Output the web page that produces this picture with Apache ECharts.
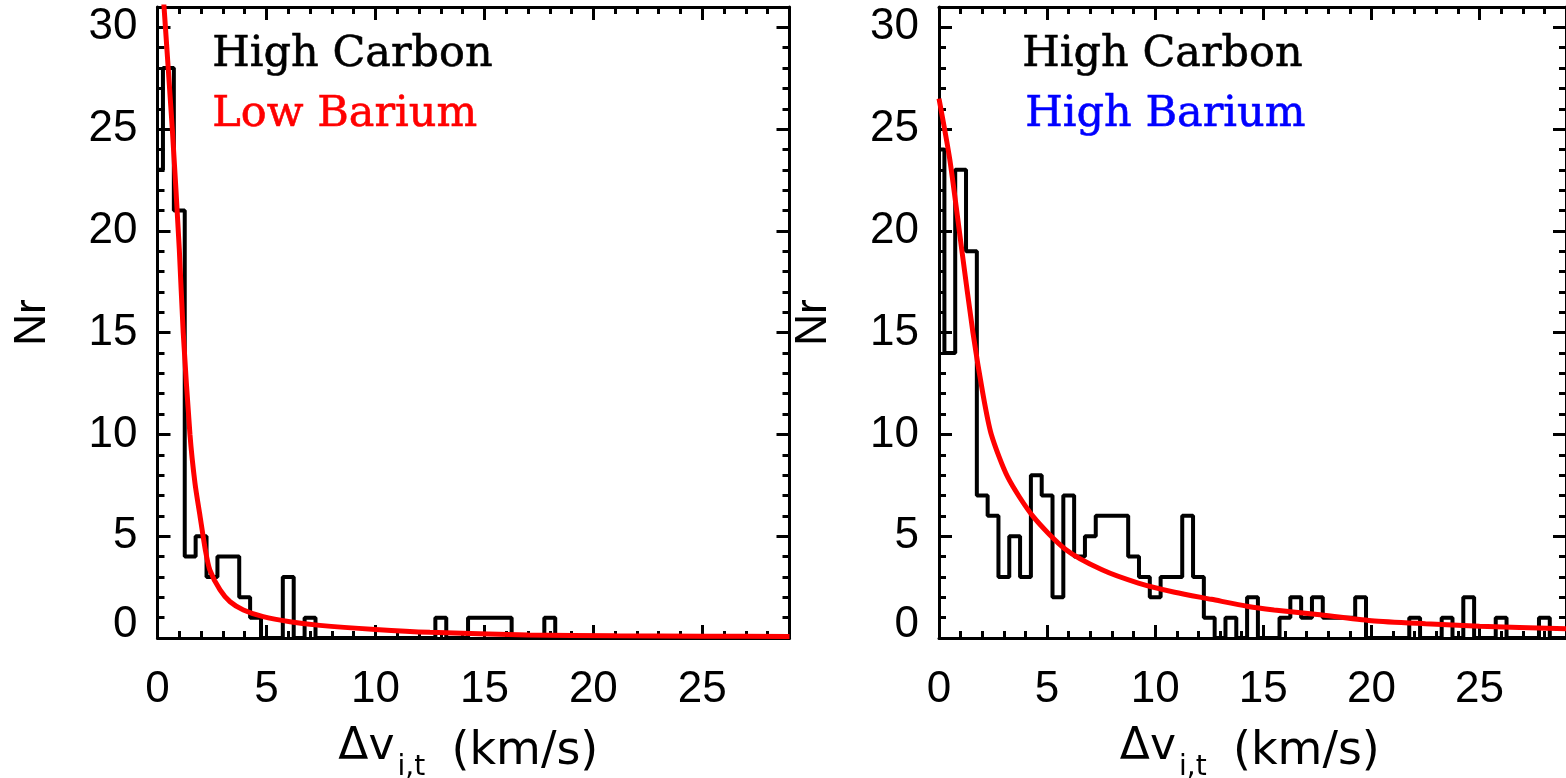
<!DOCTYPE html>
<html>
<head>
<meta charset="utf-8">
<script src="https://cdn.jsdelivr.net/npm/echarts@6/dist/echarts.min.js"></script>
<style>
  html, body { margin: 0; padding: 0; background: #fff; }
  #chart { width: 1566px; height: 778px; }
</style>
</head>
<body>
<div id="chart"></div>
<script>
// Histogram bin width (km/s); bins are centred on multiples of it, starting at 0
const binWidth = 0.5;

// Counts per bin, High Carbon / Low Barium sample
const countsLowBa = [23, 28, 21, 4, 5, 3, 4, 4, 2, 1,
                     0, 0, 3, 0, 1, 0, 0, 0, 0, 0,
                     0, 0, 0, 0, 0, 0, 1, 0, 0, 1,
                     1, 1, 1, 0, 0, 0, 1, 0, 0, 0];

// Counts per bin, High Carbon / High Barium sample
const countsHighBa = [24, 14, 23, 19, 7, 6, 3, 5, 3, 8,
                      7, 2, 7, 4, 5, 6, 6, 6, 4, 3,
                      2, 3, 3, 6, 3, 1, 0, 1, 0, 2,
                      0, 0, 1, 2, 1, 2, 1, 1, 1, 2,
                      0, 0, 0, 0, 1, 0, 0, 1, 0, 2,
                      0, 0, 1, 0, 0, 0, 1, 0, 0];

// Fitted distribution curves (velocity in km/s, number)
const fitLowBaX  = [0, 0.3, 0.68, 1.0, 1.18, 1.49, 1.72, 1.95, 2.2, 2.4, 2.87, 3.33, 3.94, 4.85, 6.08, 7.45, 10, 12.5, 17, 21, 25, 29];
const fitLowBaY  = [36, 31, 25, 19.1, 15, 10, 7.6, 6.0, 4.3, 3.35, 2.36, 1.78, 1.38, 1.05, 0.8, 0.62, 0.42, 0.28, 0.15, 0.11, 0.09, 0.07];
const fitHighBaX = [0, 0.5, 1.05, 1.57, 2.03, 2.42, 3.18, 4.33, 5.86, 7.54, 9.22, 10.9, 12.6, 14.3, 15.5, 17.5, 20, 22.5, 25, 29];
const fitHighBaY = [26.5, 23.5, 19.1, 15, 12, 10, 7.9, 6.0, 4.35, 3.35, 2.7, 2.25, 1.9, 1.55, 1.38, 1.15, 0.85, 0.7, 0.58, 0.46];

// Axis ranges and tick labels
const xMax = 29, yMax = 31;
const xMajor = 5, yMajor = 5, minorStep = 1;
const xTickLabels = [0, 5, 10, 15, 20, 25];
const yTickLabels = [0, 5, 10, 15, 20, 25, 30];

// Panel captions
const panelTitles = [
  { top: 'High Carbon', bottom: 'Low Barium',  bottomColor: '#ff0000' },
  { top: 'High Carbon', bottom: 'High Barium', bottomColor: '#0000ff' }
];
const xTitleMain = 'Δv', xTitleSub = 'i,t', xTitleUnit = '(km/s)';
const yTitle = 'Nr';

const AX_FONT = 'Liberation Sans';
const CAP_FONT = 'DejaVu Serif';
const TITLE_FONT = 'DejaVu Sans';

const grids = [
  { left: 157.5, right: 776.5, top: 7, bottom: 140 },
  { left: 939, right: -5, top: 7, bottom: 140 }
];

function pairs(xs, ys) { return xs.map((x, i) => [x, ys[i]]); }
function histPairs(counts) { return counts.map((c, i) => [i * binWidth, c]); }

const xAxes = [], yAxes = [], series = [], graphic = [];
const black = '#000';

grids.forEach((g, gi) => {
  const tickLabelX = v => xTickLabels.includes(v) ? String(v) : '';
  const tickLabelY = v => {
    if (!yTickLabels.includes(v)) return '';
    return v === 0 ? '{z|0}' : String(v);
  };
  const baseX = xAxes.length, baseY = yAxes.length;
  // bottom: major with labels, then minor; top: major, then minor
  ['bottom', 'top'].forEach(pos => {
    xAxes.push({
      type: 'value', gridIndex: gi, position: pos, min: 0, max: xMax, interval: xMajor,
      axisLine: { show: true, onZero: false, lineStyle: { color: black, width: 3 } },
      axisTick: { show: true, inside: true, length: 13, lineStyle: { color: black, width: 3 } },
      axisLabel: pos === 'bottom' ? {
        show: true, formatter: tickLabelX, color: black, fontFamily: AX_FONT, fontSize: 44, margin: 30,
        showMaxLabel: false
      } : { show: false },
      splitLine: { show: false }
    });
    xAxes.push({
      type: 'value', gridIndex: gi, position: pos, min: 0, max: xMax, interval: minorStep,
      axisLine: { show: false, onZero: false },
      axisTick: { show: true, inside: true, length: 7, lineStyle: { color: black, width: 3 } },
      axisLabel: { show: false }, splitLine: { show: false }
    });
  });
  ['left', 'right'].forEach(pos => {
    yAxes.push({
      type: 'value', gridIndex: gi, position: pos, min: 0, max: yMax, interval: yMajor,
      axisLine: { show: true, onZero: false, lineStyle: { color: black, width: 3 } },
      axisTick: { show: true, inside: true, length: 13, lineStyle: { color: black, width: 3 } },
      axisLabel: pos === 'left' ? {
        show: true, formatter: tickLabelY, color: black, fontFamily: AX_FONT, fontSize: 44, margin: 20,
        showMaxLabel: false,
        rich: { z: { fontFamily: AX_FONT, fontSize: 44, color: black, padding: [0, 0, 26, 0] } }
      } : { show: false },
      splitLine: { show: false },
      name: pos === 'left' ? yTitle : '',
      nameLocation: 'middle', nameRotate: 90, nameGap: 103,
      nameTextStyle: { fontFamily: AX_FONT, fontSize: 44, color: black }
    });
    yAxes.push({
      type: 'value', gridIndex: gi, position: pos, min: 0, max: yMax, interval: minorStep,
      axisLine: { show: false, onZero: false },
      axisTick: { show: true, inside: true, length: 7, lineStyle: { color: black, width: 3 } },
      axisLabel: { show: false }, splitLine: { show: false }
    });
  });

  const counts = gi === 0 ? countsLowBa : countsHighBa;
  const fit = gi === 0 ? pairs(fitLowBaX, fitLowBaY) : pairs(fitHighBaX, fitHighBaY);

  series.push({
    type: 'line', xAxisIndex: baseX, yAxisIndex: baseY, step: 'middle',
    data: histPairs(counts), symbol: 'none', clip: true, z: 3,
    lineStyle: { color: black, width: 4 }
  });
  series.push({
    type: 'line', xAxisIndex: baseX, yAxisIndex: baseY, smooth: 0.25,
    data: fit, symbol: 'none', clip: true, z: 4,
    lineStyle: { color: '#ff0000', width: 5 }
  });
});

// Panel captions
const capLeft = [212, 1022];
panelTitles.forEach((t, i) => {
  graphic.push({
    type: 'text', left: capLeft[i], top: 33, z: 10,
    style: { text: t.top, fill: black, font: '43px "' + CAP_FONT + '"', stroke: black, lineWidth: 0.6 }
  });
  graphic.push({
    type: 'text', left: capLeft[i] + (i === 1 ? 3 : 0), top: 93, z: 10,
    style: { text: t.bottom, fill: t.bottomColor, font: '43px "' + CAP_FONT + '"', stroke: t.bottomColor, lineWidth: 0.6 }
  });
});

// X axis titles with subscript
grids.forEach((g, i) => {
  const x0 = g.left;
  graphic.push({
    type: 'text', x: x0 + 237, y: 770, z: 10,
    style: { text: xTitleMain, fill: black, font: '44px "' + TITLE_FONT + '"', align: 'right', verticalAlign: 'bottom' }
  });
  graphic.push({
    type: 'text', x: x0 + 240, y: 782, z: 10,
    style: { text: xTitleSub, fill: black, font: '28px "' + TITLE_FONT + '"', align: 'left', verticalAlign: 'bottom' }
  });
  graphic.push({
    type: 'text', x: x0 + 294, y: 775, z: 10,
    style: { text: xTitleUnit, fill: black, font: '46px "' + TITLE_FONT + '"', align: 'left', verticalAlign: 'bottom' }
  });
});

const chart = echarts.init(document.getElementById('chart'), null, { renderer: 'canvas' });
chart.setOption({
  animation: false,
  backgroundColor: '#fff',
  grid: grids,
  xAxis: xAxes,
  yAxis: yAxes,
  series: series,
  graphic: graphic
});
</script>
</body>
</html>
